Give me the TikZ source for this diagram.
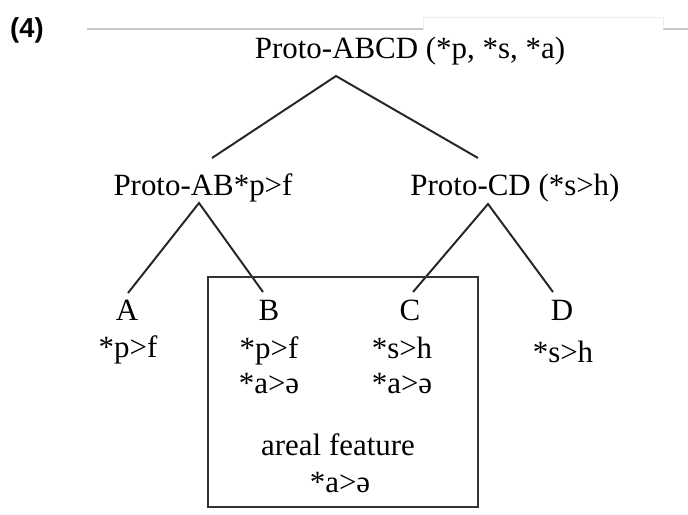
\documentclass[tikz,border=0pt]{standalone}
\usepackage{fontspec}
\setmainfont{Liberation Serif}
\newfontfamily\exfont{Liberation Sans}
\usepackage{tikz}
\usetikzlibrary{positioning}
\tikzstyle{lang} = [anchor=base, inner sep=1pt, font=\fontsize{22}{24}\selectfont]
\tikzstyle{branch} = [line width=1.4pt, draw=black!85]
\tikzstyle{area} = [line width=1.6pt, draw=black!80]
\tikzstyle{topline} = [line width=0.8pt, draw=black!22]

\begin{document}
\begin{tikzpicture}
		\useasboundingbox (0,0) rectangle (17.2,-12.875);
		\node (exno) at (0.675,-0.75) {\exfont\bfseries\fontsize{19.5}{22}\selectfont (4)};
		\draw [topline] (2.175,-0.725) -- (10.575,-0.725);
		\draw [topline] (16.575,-0.725) -- (17.2,-0.725);
		\draw [draw=black!7, line width=0.6pt] (10.575,-0.725) -- (10.575,-0.425) -- (16.575,-0.425) -- (16.575,-0.725);
		\node (abcd) [lang] at (10.25,-1.45) {Proto-ABCD (*p, *s, *a)};
		\node (ab) [lang] at (5.075,-4.875) {Proto-AB*p>f};
		\node (cd) [lang] at (12.875,-4.875) {Proto-CD (*s>h)};
		\node (a) [lang] at (3.175,-8) {A};
		\node (b) [lang] at (6.725,-8) {B};
		\node (c) [lang] at (10.25,-8) {C};
		\node (d) [lang] at (14.05,-8) {D};
		\node (a1) [lang] at (3.2,-8.925) {*p>f};
		\node (b1) [lang] at (6.725,-8.95) {*p>f};
		\node (b2) [lang] at (6.725,-9.825) {*a>ə};
		\node (c1) [lang] at (10.05,-8.95) {*s>h};
		\node (c2) [lang] at (10.05,-9.825) {*a>ə};
		\node (d1) [lang] at (14.075,-9.05) {*s>h};
		\node (feat) [lang] at (8.45,-11.375) {areal feature};
		\node (feat1) [lang] at (8.5,-12.3) {*a>ə};
		\coordinate (abcd-fork) at (8.4,-1.9);
		\coordinate (ab-end) at (5.3,-3.95);
		\coordinate (cd-end) at (11.95,-3.95);
		\coordinate (ab-fork) at (4.975,-5.075);
		\coordinate (cd-fork) at (12.2,-5.1);
		\coordinate (a-end) at (3.2,-7.325);
		\coordinate (b-end) at (6.575,-7.3);
		\coordinate (c-end) at (10.325,-7.3);
		\coordinate (d-end) at (13.825,-7.3);
		\draw [branch] (ab-end) -- (abcd-fork) -- (cd-end);
		\draw [branch] (a-end) -- (ab-fork) -- (b-end);
		\draw [branch] (c-end) -- (cd-fork) -- (d-end);
		\draw [area] (5.2,-6.925) rectangle (11.95,-12.675);
	\end{tikzpicture}
\end{document}
